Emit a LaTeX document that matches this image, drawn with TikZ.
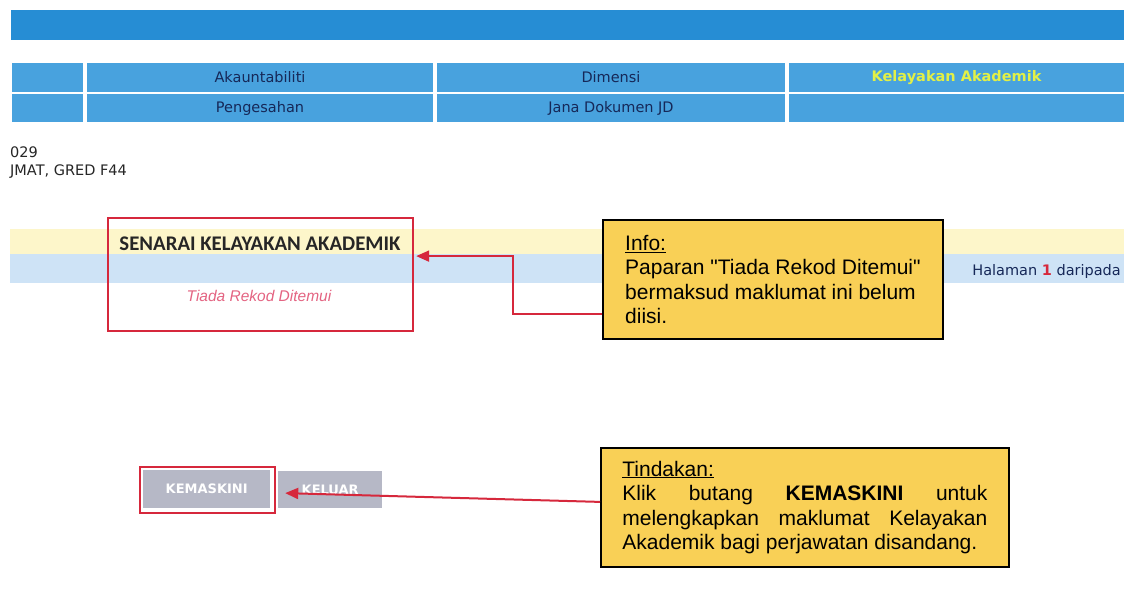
\documentclass[tikz,border=0pt]{standalone}
\usepackage{fontspec}
\setmainfont{Liberation Sans}[Ligatures=TeXOff]
\newfontfamily\dvs{DejaVu Sans}
\newfontfamily\calib{Carlito}
\usetikzlibrary{arrows.meta}
\definecolor{topblue}{RGB}{38,141,212}
\definecolor{cellblue}{RGB}{72,162,222}
\definecolor{navy}{RGB}{22,40,88}
\definecolor{selyellow}{RGB}{226,240,70}
\definecolor{bandyellow}{RGB}{253,246,202}
\definecolor{bandblue}{RGB}{206,227,246}
\definecolor{mark}{RGB}{214,40,60}
\definecolor{notefill}{RGB}{249,208,86}
\definecolor{btngrey}{RGB}{182,184,198}
\definecolor{pinktext}{RGB}{228,100,130}
\tikzset{
  bar/.style={fill=topblue, anchor=north west, inner sep=0pt, outer sep=0pt},
  cell/.style={fill=cellblue, anchor=north west, inner sep=0pt, outer sep=0pt,
    font=\dvs\fontsize{14.5}{17}\selectfont, text=navy},
  band/.style={anchor=north west, inner sep=0pt, outer sep=0pt},
  redframe/.style={draw=mark, line width=2.2pt, anchor=north west, inner sep=0pt},
  arr/.style={draw=mark, line width=2pt, -{Triangle[length=13pt,width=11pt]}},
  note/.style={draw=black, line width=1.8pt, fill=notefill, inner sep=0pt,
    anchor=north west, font=\fontsize{21}{24.5}\selectfont},
  btn/.style={fill=btngrey, text=white, anchor=north west, inner sep=0pt,
    font=\dvs\bfseries\fontsize{13}{15}\selectfont},
  plain/.style={inner sep=0pt, font=\dvs\fontsize{14.5}{17}\selectfont}
}
\begin{document}
\begin{tikzpicture}[x=1pt,y=-1pt]
\fill[white] (0,0) rectangle (1126,592);
\useasboundingbox (0,0) rectangle (1126,592);
% top bar
\node[bar, minimum width=1113pt, minimum height=30pt] (topbar) at (11,10) {};
% tab table
\node[cell, minimum width=71pt,  minimum height=29pt] (r1c1) at (12,63) {};
\node[cell, minimum width=346pt, minimum height=29pt] (r1c2) at (87,63) {Akauntabiliti};
\node[cell, minimum width=348pt, minimum height=29pt] (r1c3) at (437,63) {Dimensi};
\node[cell, minimum width=335pt, minimum height=29pt, text=selyellow,
      font=\dvs\bfseries\fontsize{14.5}{17}\selectfont] (r1c4) at (789,63) {Kelayakan Akademik};
\node[cell, minimum width=71pt,  minimum height=28pt] (r2c1) at (12,94) {};
\node[cell, minimum width=346pt, minimum height=28pt] (r2c2) at (87,94) {Pengesahan};
\node[cell, minimum width=348pt, minimum height=28pt] (r2c3) at (437,94) {Jana Dokumen JD};
\node[cell, minimum width=335pt, minimum height=28pt] (r2c4) at (789,94) {};
% left texts
\node[plain, anchor=west, text=black!85] (num) at (10,152) {029};
\node[plain, anchor=west, text=black!85] (gred) at (10,172) {JMAT, GRED F44};
% bands
\node[band, fill=bandyellow, minimum width=1114pt, minimum height=25pt] (yband) at (10,229) {};
\node[band, fill=bandblue, minimum width=1114pt, minimum height=29pt] (bband) at (10,254) {};
\node[plain, anchor=east, text=navy] (halaman) at (1121,271)
  {Halaman {\bfseries\color{mark}1} daripada};
% list box
\node[redframe, minimum width=305pt, minimum height=113pt] (senarai) at (107,217) {};
\node[inner sep=0pt, font=\calib\bfseries\fontsize{20.8}{24}\selectfont, text=black!85]
  (title) at (260,244) {SENARAI KELAYAKAN AKADEMIK};
\node[inner sep=0pt, font=\itshape\fontsize{15.5}{18}\selectfont, text=pinktext]
  (tiada) at (259,296) {Tiada Rekod Ditemui};
% info note
\node[note, minimum width=340pt, minimum height=119pt, align=left] (info) at (602,219)
  {\underline{Info:}\\ Paparan "Tiada Rekod Ditemui"\\ bermaksud maklumat ini belum\\ diisi.};
% buttons
\node[btn, minimum width=127pt, minimum height=38pt] (kemaskinibtn) at (143,470) {KEMASKINI};
\node[redframe, minimum width=135pt, minimum height=46pt] (kemaskini) at (139,466) {};
\node[btn, minimum width=104pt, minimum height=37pt] (keluar) at (278,471) {KELUAR};
% action note
\node[note, minimum width=408pt, minimum height=119pt, text width=365pt, align=justify]
  (tindakan) at (600,447)
  {\hyphenpenalty=10000\tolerance=10000\underline{Tindakan:}\\
   Klik butang \textbf{KEMASKINI} untuk\linebreak melengkapkan maklumat Kelayakan\linebreak Akademik bagi perjawatan disandang.};
% connectors
\draw[arr] ([yshift=-34.5pt]info.west) -- ++(-89,0) |- ([xshift=2pt,yshift=18.5pt]senarai.east);
\draw[arr] ([yshift=5.5pt]tindakan.west) -- ([xshift=9pt,yshift=-3pt]kemaskini.east);
\end{tikzpicture}
\end{document}
